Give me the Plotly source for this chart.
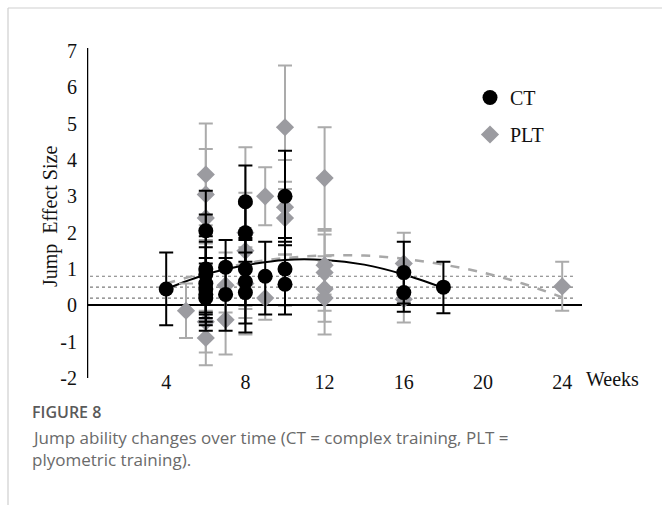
import plotly.graph_objects as go

# Complex training (CT): week, effect size, lower and upper CI bounds
ct_week = [4, 6, 6, 6, 6, 6, 6, 6, 7, 7, 8, 8, 8, 8, 8, 9, 10, 10, 10, 16, 16, 18]
ct_es = [0.45, 2.05, 1.0, 0.85, 0.6, 0.45, 0.3, 0.2, 1.05, 0.3, 2.85, 2.0, 1.0, 0.65, 0.35, 0.8, 3.0, 1.0, 0.58, 0.9, 0.35, 0.5]
ct_lo = [-0.55, 0.95, -0.45, -0.2, -0.7, -0.35, -0.55, -0.25, 0.3, -0.7, 1.85, 1.2, 0.0, -0.5, -0.75, -0.25, 1.75, 0.0, -0.25, 0.05, -0.18, -0.22]
ct_hi = [1.45, 3.15, 2.5, 1.9, 1.75, 1.3, 1.6, 1.15, 1.8, 1.3, 3.85, 2.8, 1.95, 1.8, 1.45, 1.75, 4.25, 1.85, 1.65, 1.75, 0.9, 1.2]

# Plyometric training (PLT)
plt_week = [5, 6, 6, 6, 6, 6, 7, 7, 8, 8, 8, 9, 9, 10, 10, 10, 12, 12, 12, 12, 12, 16, 16, 24]
plt_es = [-0.15, 3.6, 3.05, 2.4, -0.45, -0.9, 0.55, -0.4, 2.0, 1.5, 0.6, 3.0, 0.2, 4.9, 2.7, 2.4, 3.5, 1.1, 0.9, 0.45, 0.2, 1.15, 0.17, 0.52]
plt_lo = [-0.9, 2.2, 1.8, 1.7, -1.3, -1.65, -0.2, -1.35, -0.35, -0.1, -0.8, 2.2, -0.4, 3.2, 1.4, 1.4, 2.1, 0.3, -0.15, -0.45, -0.8, 0.3, -0.47, -0.15]
plt_hi = [0.6, 5.0, 4.3, 3.1, 0.4, -0.15, 1.45, 0.55, 4.35, 3.1, 1.6, 3.8, 0.8, 6.6, 4.0, 3.4, 4.9, 1.95, 2.05, 1.35, 1.2, 2.0, 0.8, 1.2]

# Trend curves
ct_trend_week = [4, 6, 8, 10, 12, 14, 16, 18]
ct_trend_es = [0.45, 0.85, 1.1, 1.25, 1.25, 1.12, 0.85, 0.48]
plt_trend_week = [4, 6, 8, 10, 12, 14, 16, 18, 20, 22, 24]
plt_trend_es = [0.6, 0.9, 1.15, 1.3, 1.37, 1.37, 1.28, 1.12, 0.9, 0.6, 0.22]

# Effect-size thresholds (small, medium, large)
thresholds = [0.2, 0.5, 0.8]

x_ticks = [4, 8, 12, 16, 20, 24]
y_ticks = [-2, -1, 0, 1, 2, 3, 4, 5, 6, 7]
y_ticktext = ["-2", "-1", "0", "1", "2", "3", "4", "5", "6", "7"]

SERIF = "Liberation Serif"
CT_COLOR = "#000000"
PLT_COLOR = "#9b9ba0"
PLT_BAR = "#ababab"
X_RANGE = [0, 25]

fig = go.Figure()

fig.add_trace(go.Scatter(
    x=plt_trend_week, y=plt_trend_es, mode="lines", line_shape="spline",
    line=dict(color="#a8a8a8", width=2.5, dash="dash"), showlegend=False, hoverinfo="skip"))
fig.add_trace(go.Scatter(
    x=ct_trend_week, y=ct_trend_es, mode="lines", line_shape="spline",
    line=dict(color="#000000", width=2), showlegend=False, hoverinfo="skip"))

fig.add_trace(go.Scatter(
    x=plt_week, y=plt_es, mode="markers", name="PLT", legendgroup="b", legendrank=2,
    marker=dict(symbol="diamond", size=14, color=PLT_COLOR),
    error_y=dict(type="data", symmetric=False,
                 array=[h - v for h, v in zip(plt_hi, plt_es)],
                 arrayminus=[v - l for l, v in zip(plt_lo, plt_es)],
                 color=PLT_BAR, thickness=2, width=7)))
# CT markers live on the companion x axis (same range) so they sit on top
fig.add_trace(go.Scatter(
    x=ct_week, y=ct_es, mode="markers", name="CT", legendgroup="a", legendrank=1,
    xaxis="x2", yaxis="y",
    marker=dict(symbol="circle", size=15, color=CT_COLOR),
    error_y=dict(type="data", symmetric=False,
                 array=[h - v for h, v in zip(ct_hi, ct_es)],
                 arrayminus=[v - l for l, v in zip(ct_lo, ct_es)],
                 color=CT_COLOR, thickness=2, width=7)))

# Plot-area geometry in pixels
L = 87; R = 582; T = 48; B = 378
px = lambda p: (p - L) / (R - L)
py = lambda p: (B - p) / (B - T)

shapes = []
for t in thresholds:
    shapes.append(dict(type="line", xref="x", yref="y", x0=0.15, x1=24.6, y0=t, y1=t,
                       line=dict(color="#7a7a7a", width=1.2, dash="dot"), layer="below"))
# vertical axis line
shapes.append(dict(type="line", xref="x", yref="y", x0=0, x1=0, y0=-2, y1=7.08,
                   line=dict(color="#000000", width=2.5)))
# frame around the figure panel
shapes.append(dict(type="line", xref="paper", yref="paper", x0=px(8), x1=px(8), y0=py(8), y1=py(505),
                   line=dict(color="#cfcfcf", width=1.2)))
shapes.append(dict(type="line", xref="paper", yref="paper", x0=px(8), x1=px(662), y0=py(8), y1=py(8),
                   line=dict(color="#cfcfcf", width=1.2)))

CAPTION = dict(family="Open Sans", size=17, color="#6a6a6a")
annotations = [
    dict(text="Weeks", xref="paper", yref="paper", x=px(584), y=py(379), xanchor="left",
         yanchor="middle", showarrow=False, font=dict(family=SERIF, size=20, color="#111")),
    dict(text="Jump\u00a0 Effect Size", xref="paper", yref="paper", x=px(50), y=py(217),
         xanchor="center", yanchor="middle",
         textangle=-90, showarrow=False, font=dict(family=SERIF, size=20, color="#111")),
    dict(text="FIGURE 8", xref="paper", yref="paper", x=px(30), y=py(412), xanchor="left",
         yanchor="middle", showarrow=False,
         font=dict(family="Open Sans", size=16, color="#5a5a5a", weight=600)),
    dict(text="Jump ability changes over time (CT = complex training, PLT =", xref="paper",
         yref="paper", x=px(30), y=py(437), xanchor="left", yanchor="middle", showarrow=False,
         font=CAPTION),
    dict(text="plyometric training).", xref="paper", yref="paper", x=px(30), y=py(459),
         xanchor="left", yanchor="middle", showarrow=False, font=CAPTION),
]

fig.update_layout(
    width=662, height=505,
    margin=dict(l=L, r=662 - R, t=T, b=505 - B),
    paper_bgcolor="white", plot_bgcolor="white",
    shapes=shapes, annotations=annotations,
    showlegend=True,
    legend=dict(x=px(470), y=py(78), xanchor="left", yanchor="top", traceorder="grouped",
                tracegroupgap=8, font=dict(family=SERIF, size=20, color="#111"),
                bgcolor="rgba(0,0,0,0)"),
    xaxis=dict(range=X_RANGE, showticklabels=False, showgrid=False, zeroline=False,
               showline=False, ticks=""),
    # week labels sit on the companion axis, level with the lowest y tick
    xaxis2=dict(range=X_RANGE, overlaying="x", anchor="free", position=py(368), side="bottom",
                tickvals=x_ticks, showgrid=False, zeroline=False, showline=False, ticks="",
                tickfont=dict(family=SERIF, size=20, color="#111")),
    yaxis=dict(range=[-2.0, 7.08], tickvals=y_ticks, ticktext=y_ticktext, showgrid=False,
               zeroline=True, zerolinecolor="#000000", zerolinewidth=2, showline=False,
               ticks="outside", ticklen=5, tickcolor="rgba(0,0,0,0)",
               tickfont=dict(family=SERIF, size=20, color="#111")),
)

fig.write_html("out.html")
